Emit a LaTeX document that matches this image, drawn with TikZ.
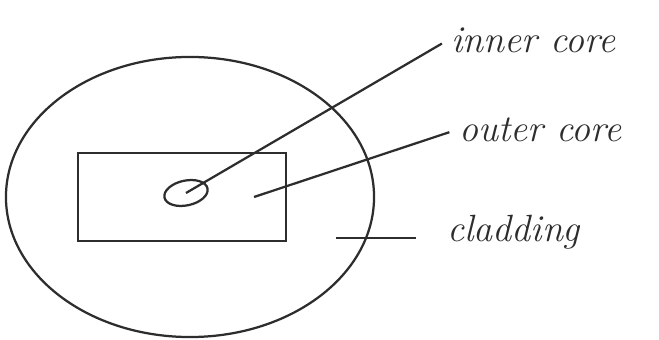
\documentclass[tikz,border=0pt]{standalone}
\usepackage{tikz}
\usetikzlibrary{positioning,calc,shapes.geometric}
\definecolor{pen}{RGB}{45,45,45}
\tikzset{
  sketch/.style={draw=pen,line width=1.6pt},
  hand/.style={font=\fontsize{27}{29}\selectfont\itshape,text=pen,inner sep=2pt},
}

\begin{document}
\begin{tikzpicture}[x=0.025cm,y=-0.025cm]
\useasboundingbox (0,0) rectangle (659,340);
% fibre cross-section
\node[sketch,ellipse,minimum width=9.2cm,minimum height=7.0cm] (clad) at (190,197) {};
\node[sketch,rectangle,minimum width=5.2cm,minimum height=2.2cm] (outer) at (182,197) {};
\node[sketch,ellipse,rotate=12,minimum width=1.1cm,minimum height=0.62cm] (inner) at (186,193) {};
% labels
\node[hand,anchor=west] (innertxt) at (448,40) {inner core};
\node[hand,anchor=west] (outertxt) at (456,130) {outer core};
\node[hand,anchor=west] (cladtxt) at (444,232) {cladding};
\coordinate (outerend) at (254,197);
\coordinate (cladend) at (336,238);
\coordinate (cladtip) at (416,238);
\draw[sketch,shorten >=5pt] (inner.center) -- (innertxt.west);
\draw[sketch,shorten >=5pt] (outerend) -- (outertxt.west);
\draw[sketch] (cladend) -- (cladtip);
\end{tikzpicture}
\end{document}
